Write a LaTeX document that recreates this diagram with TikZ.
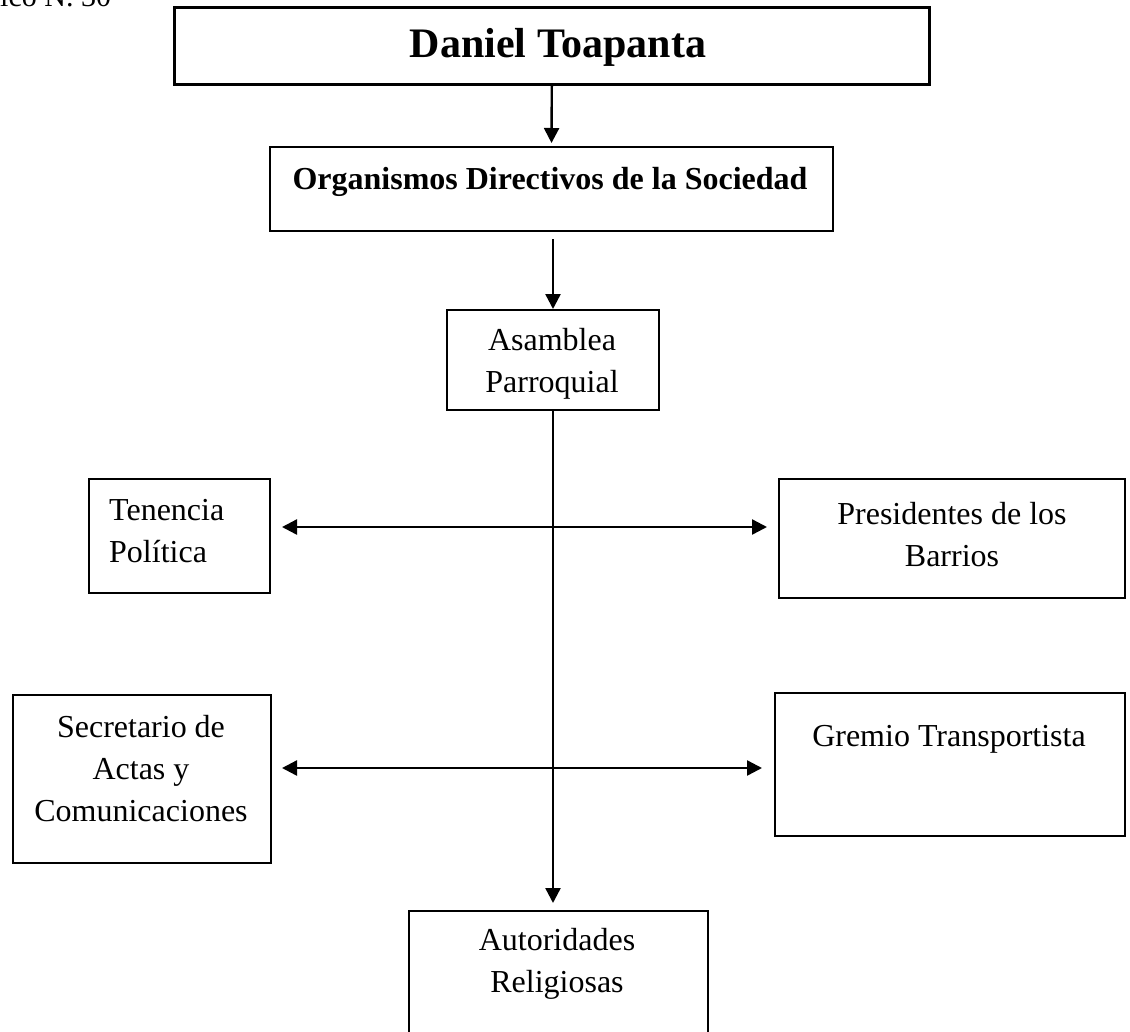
\documentclass[tikz,border=0pt]{standalone}
\usepackage{fontspec}
\setmainfont{Liberation Serif}
\usetikzlibrary{arrows.meta}
\begin{document}
\begin{tikzpicture}[x=1pt,y=-1pt,
  box/.style={draw, line width=2pt, inner sep=0pt, anchor=north west},
  txt/.style={font=\fontsize{32}{42}\selectfont, inner sep=0pt, align=center},
  arr/.style={line width=2.4pt, -{Triangle[length=15pt,width=15pt]}},
  dbl/.style={line width=2.4pt, {Triangle[length=15pt,width=15pt]}-{Triangle[length=15pt,width=15pt]}}]
\useasboundingbox (0,0) rectangle (1130,1031);
\clip (0,0) rectangle (1130,1031);
\fill[white] (0,0) rectangle (1130,1031);

% caption (cut at the top)
\node[font=\fontsize{30}{36}\selectfont, inner sep=0pt, anchor=base west] (cap) at (0,6) {ico N. 30};

% boxes
\node[box, line width=2.6pt, minimum width=755, minimum height=77] (top) at (173,6) {};
\node[box, minimum width=563, minimum height=84] (org) at (269,146) {};
\node[box, minimum width=212, minimum height=100] (asm) at (446,309) {};
\node[box, minimum width=181, minimum height=114] (ten) at (88,478) {};
\node[box, minimum width=346, minimum height=119] (pres) at (778,478) {};
\node[box, minimum width=258, minimum height=168] (sec) at (12,694) {};
\node[box, minimum width=350, minimum height=143] (grem) at (774,692) {};
\node[box, minimum width=299, minimum height=150] (aut) at (408,910) {};

% texts
\node[txt, font=\fontsize{42}{50}\selectfont\bfseries, anchor=base] (topT) at (558,57) {Daniel Toapanta};
\node[txt, font=\fontsize{32}{42}\selectfont\bfseries, anchor=base] (orgT) at (550,189) {Organismos Directivos de la Sociedad};
\node[txt] (asmT) at (552,364) {Asamblea\\Parroquial};
\node[txt, align=left, anchor=west] (tenT) at (109,531) {Tenencia\\Política};
\node[txt] (presT) at (952,535) {Presidentes de los\\Barrios};
\node[txt] (secT) at (141,769) {Secretario de\\Actas y\\Comunicaciones};
\node[txt, anchor=base] (gremT) at (949,746) {Gremio Transportista};
\node[txt] (autT) at (557,964) {Autoridades\\Religiosas};

% connectors
\draw[arr, shorten >=3pt] (top.south) -- (org.north);
\draw[arr, shorten <=7pt] (org.south -| asm.north) -- (asm.north);
\draw[arr, shorten >=7pt] (asm.south) -- (asm.south |- aut.north);
\draw[dbl] ([shift={(11,-9)}]ten.east) -- ([shift={(-11,-11.5)}]pres.west);
\draw[dbl] ([shift={(10,-11)}]sec.east) -- ([shift={(-12,3.5)}]grem.west);
\end{tikzpicture}
\end{document}
